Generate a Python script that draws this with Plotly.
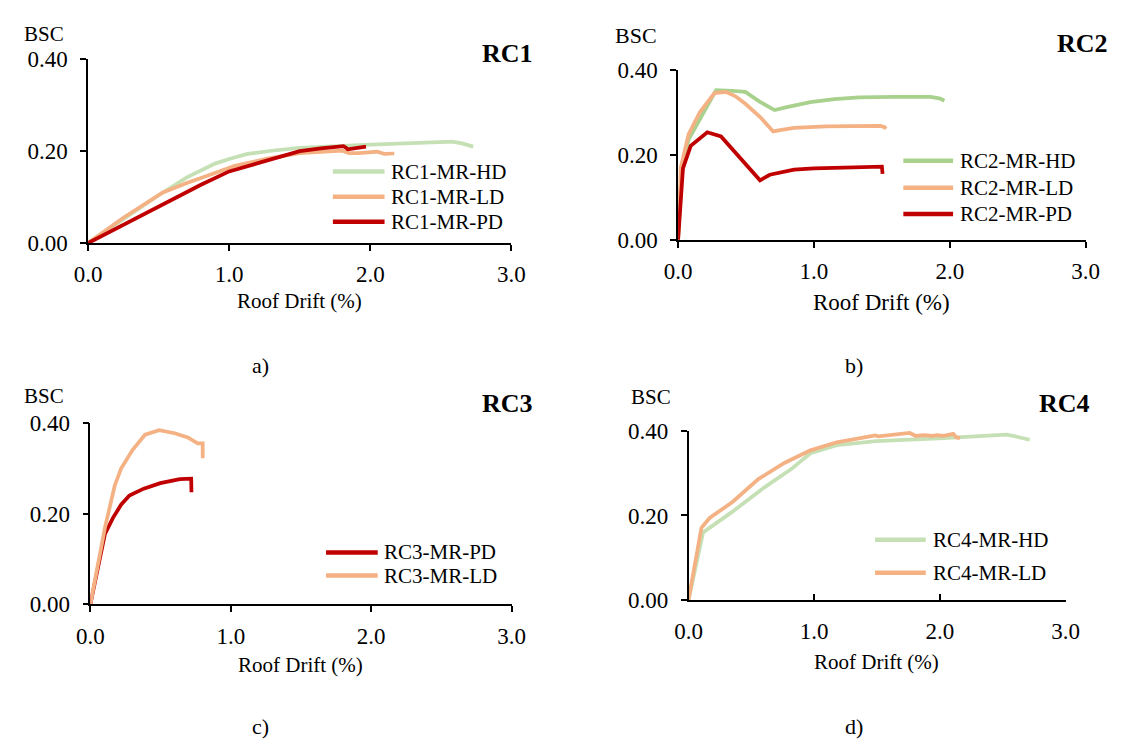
import plotly.graph_objects as go

W, H = 1127, 751

# ---------------- data: roof drift (%) vs base shear coefficient ----------------
# RC1
rc1_hd_x = [0, 0.25, 0.50, 0.70, 0.90, 1.00, 1.13, 1.30, 1.50, 1.96, 2.42, 2.58, 2.65, 2.73]
rc1_hd_y = [0, 0.052, 0.104, 0.143, 0.173, 0.183, 0.194, 0.201, 0.207, 0.214, 0.219, 0.221, 0.217, 0.210]
rc1_ld_x = [0, 0.25, 0.53, 0.70, 0.85, 1.04, 1.27, 1.50, 1.80, 1.83, 1.85, 1.92, 2.00, 2.05, 2.08, 2.10, 2.17]
rc1_ld_y = [0, 0.055, 0.110, 0.131, 0.147, 0.168, 0.184, 0.196, 0.201, 0.198, 0.196, 0.196, 0.197, 0.199, 0.196, 0.194, 0.195]
rc1_pd_x = [0, 0.30, 0.58, 0.80, 1.00, 1.27, 1.50, 1.65, 1.81, 1.83, 1.84, 1.97]
rc1_pd_y = [0, 0.047, 0.093, 0.127, 0.156, 0.180, 0.200, 0.206, 0.211, 0.207, 0.204, 0.210]

# RC2
rc2_hd_x = [0, 0.029, 0.077, 0.18, 0.28, 0.40, 0.495, 0.60, 0.71, 0.80, 0.974, 1.15, 1.333, 1.60, 1.86, 1.93, 1.96]
rc2_hd_y = [0, 0.172, 0.236, 0.294, 0.352, 0.350, 0.348, 0.325, 0.305, 0.312, 0.324, 0.331, 0.335, 0.336, 0.336, 0.332, 0.327]
rc2_ld_x = [0, 0.02, 0.077, 0.16, 0.268, 0.35, 0.42, 0.495, 0.60, 0.70, 0.75, 0.854, 1.09, 1.30, 1.49, 1.52, 1.53]
rc2_ld_y = [0, 0.17, 0.248, 0.30, 0.345, 0.348, 0.338, 0.32, 0.29, 0.255, 0.258, 0.263, 0.267, 0.268, 0.268, 0.265, 0.261]
rc2_pd_x = [0, 0.036, 0.093, 0.215, 0.316, 0.46, 0.603, 0.675, 0.854, 1.00, 1.213, 1.50, 1.505]
rc2_pd_y = [0, 0.168, 0.221, 0.253, 0.243, 0.19, 0.140, 0.153, 0.165, 0.168, 0.170, 0.172, 0.155]

# RC3
rc3_pd_x = [0, 0.06, 0.104, 0.16, 0.22, 0.278, 0.38, 0.498, 0.637, 0.718, 0.72]
rc3_pd_y = [0, 0.09, 0.155, 0.19, 0.22, 0.24, 0.255, 0.267, 0.276, 0.277, 0.247]
rc3_ld_x = [0, 0.104, 0.174, 0.22, 0.30, 0.39, 0.49, 0.60, 0.694, 0.764, 0.80, 0.80]
rc3_ld_y = [0, 0.169, 0.262, 0.30, 0.34, 0.374, 0.384, 0.377, 0.368, 0.355, 0.355, 0.322]

# RC4
rc4_hd_x = [0, 0.116, 0.35, 0.607, 0.815, 0.97, 1.18, 1.49, 2.03, 2.53, 2.57, 2.715]
rc4_hd_y = [0, 0.160, 0.209, 0.267, 0.309, 0.347, 0.366, 0.376, 0.383, 0.391, 0.389, 0.379]
rc4_ld_x = [0, 0.103, 0.168, 0.35, 0.556, 0.763, 0.97, 1.18, 1.486, 1.51, 1.76, 1.81, 1.875, 1.94, 1.98, 2.03, 2.107, 2.13, 2.16]
rc4_ld_y = [0, 0.171, 0.194, 0.232, 0.286, 0.324, 0.354, 0.373, 0.389, 0.387, 0.395, 0.388, 0.390, 0.388, 0.390, 0.388, 0.393, 0.385, 0.383]

x_ticks = [0, 1, 2, 3]
y_ticks = [0, 0.2, 0.4]

C_HD = "#C5E0B4"
C_HD2 = "#A9D18E"
C_LD = "#F4B183"
C_PD = "#C00000"

SERIF = "Liberation Serif, Times New Roman, serif"

# panel layout in pixels: (left, right, bottom, top) of plotting area
panels = [
    dict(key="a", box=(76, 510, 239, 49), title="RC1", title_xy=(534, 43),
         bsc_xy=(31, 23), bsc_size=21, xt_xy=(293, 299), xt_size=21, letter_xy=(253, 366),
         xticks="outside",
         series=[("RC1-MR-HD", rc1_hd_x, rc1_hd_y, C_HD),
                 ("RC1-MR-LD", rc1_ld_x, rc1_ld_y, C_LD),
                 ("RC1-MR-PD", rc1_pd_x, rc1_pd_y, C_PD)],
         legend=dict(rows=[165, 191, 217], x0=327, x1=380, tx=385)),
    dict(key="b", box=(681, 1099, 235.7, 59.7), title="RC2", title_xy=(1124, 33),
         bsc_xy=(638, 24), bsc_size=22, xt_xy=(890, 300), xt_size=23, letter_xy=(861, 366),
         xticks="outside",
         series=[("RC2-MR-HD", rc2_hd_x, rc2_hd_y, C_HD2),
                 ("RC2-MR-LD", rc2_ld_x, rc2_ld_y, C_LD),
                 ("RC2-MR-PD", rc2_pd_x, rc2_pd_y, C_PD)],
         legend=dict(rows=[154, 181.7, 209], x0=912, x1=963, tx=968)),
    dict(key="c", box=(78.3, 510.3, 612.7, 425), title="RC3", title_xy=(534, 405),
         bsc_xy=(31, 397), bsc_size=21, xt_xy=(294, 675), xt_size=21, letter_xy=(253, 739),
         xticks="outside",
         series=[("RC3-MR-PD", rc3_pd_x, rc3_pd_y, C_PD),
                 ("RC3-MR-LD", rc3_ld_x, rc3_ld_y, C_LD)],
         legend=dict(rows=[559, 583], x0=320, x1=373, tx=377)),
    dict(key="d", box=(691.7, 1078.3, 608.3, 433.3), title="RC4", title_xy=(1105, 405),
         bsc_xy=(653, 398), bsc_size=21, xt_xy=(884, 672), xt_size=21, letter_xy=(861, 739),
         xticks="inside",
         series=[("RC4-MR-HD", rc4_hd_x, rc4_hd_y, C_HD),
                 ("RC4-MR-LD", rc4_ld_x, rc4_ld_y, C_LD)],
         legend=dict(rows=[546, 580], x0=883, x1=935, tx=940)),
]


def px(xp):
    return xp / W


def py(yp):
    return 1 - yp / H


fig = go.Figure()
annotations = []
shapes = []

for i, p in enumerate(panels):
    n = "" if i == 0 else str(i + 1)
    left, right, bottom, top = p["box"]
    xa = dict(
        domain=[px(left), px(right)], range=[0, 3], anchor="y" + n,
        tickvals=x_ticks, tickformat=".1f", ticks=p["xticks"], ticklen=6, tickwidth=1.5,
        tickcolor="black", showline=True, linecolor="black", linewidth=1.5,
        showgrid=False, zeroline=False,
        ticklabelstandoff=4 if p["xticks"] == "outside" else 10,
        tickfont=dict(family=SERIF, size=23, color="black"), fixedrange=True,
    )
    ya = dict(
        domain=[py(bottom), py(top)], range=[0, 0.4], anchor="x" + n,
        tickvals=y_ticks, tickformat=".2f", ticks="outside", ticklen=6, tickwidth=1.5,
        tickcolor="black", showline=True, linecolor="black", linewidth=1.5,
        showgrid=False, zeroline=False, ticklabelstandoff=8,
        tickfont=dict(family=SERIF, size=23, color="black"), fixedrange=True,
    )
    fig.update_layout({"xaxis" + n: xa, "yaxis" + n: ya})

    for name, xs, ys, col in p["series"]:
        fig.add_trace(go.Scatter(
            x=xs, y=ys, mode="lines", name=name, showlegend=False,
            line=dict(color=col, width=3.75), xaxis="x" + n, yaxis="y" + n,
            cliponaxis=False,
        ))

    # legend keys and labels
    lg = p["legend"]
    for (name, xs, ys, col), ry in zip(p["series"], lg["rows"]):
        shapes.append(dict(type="line", xref="paper", yref="paper",
                           x0=px(lg["x0"]), x1=px(lg["x1"]), y0=py(ry), y1=py(ry),
                           line=dict(color=col, width=4.5)))
        annotations.append(dict(text=name, xref="paper", yref="paper",
                                x=px(lg["tx"]), y=py(ry), xanchor="left", yanchor="middle",
                                showarrow=False, font=dict(family=SERIF, size=21, color="black")))

    # panel title, axis titles and sub-figure letter
    annotations.append(dict(text="<b>%s</b>" % p["title"], xref="paper", yref="paper",
                            x=px(p["title_xy"][0]), y=py(p["title_xy"][1]),
                            xanchor="right", yanchor="middle", showarrow=False,
                            font=dict(family=SERIF, size=26, color="black")))
    annotations.append(dict(text="BSC", xref="paper", yref="paper",
                            x=px(p["bsc_xy"][0]), y=py(p["bsc_xy"][1]),
                            xanchor="center", yanchor="middle", showarrow=False,
                            font=dict(family=SERIF, size=p["bsc_size"], color="black")))
    annotations.append(dict(text="Roof Drift (%)", xref="paper", yref="paper",
                            x=px(p["xt_xy"][0]), y=py(p["xt_xy"][1]),
                            xanchor="center", yanchor="middle", showarrow=False,
                            font=dict(family=SERIF, size=p["xt_size"], color="black")))
    annotations.append(dict(text=p["key"] + ")", xref="paper", yref="paper",
                            x=px(p["letter_xy"][0]), y=py(p["letter_xy"][1]),
                            xanchor="center", yanchor="middle", showarrow=False,
                            font=dict(family=SERIF, size=22, color="black")))

fig.update_layout(
    width=W, height=H, margin=dict(l=0, r=0, t=0, b=0),
    paper_bgcolor="white", plot_bgcolor="white",
    showlegend=False, annotations=annotations, shapes=shapes,
)

fig.write_html("out.html", config={"displayModeBar": False},
               post_script="document.body.style.margin='0';")
